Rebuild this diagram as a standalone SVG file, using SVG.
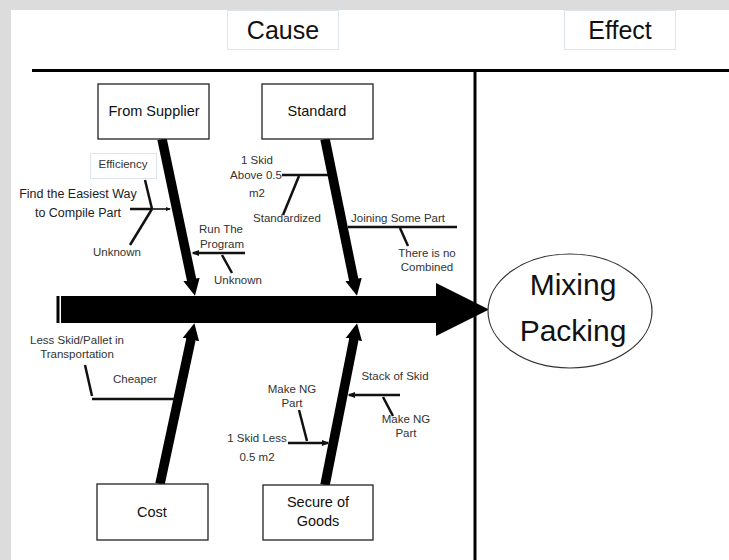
<svg xmlns="http://www.w3.org/2000/svg" width="729" height="560" viewBox="0 0 729 560">
<style>
  text { font-family: "Liberation Sans", Arial, sans-serif; text-anchor: middle; }
  .lbl { font-size: 11.5px; fill: #333; }
  .big { font-size: 12.5px; fill: #222; }
  .box { fill: #fff; stroke: #222; stroke-width: 1.3; }
  .ttl { font-size: 14.5px; fill: #111; }
  .hdr { fill: #fff; stroke: #dbe5ee; stroke-width: 1; }
  .hdrt { font-size: 25px; fill: #111; }
  .bone { stroke: #000; stroke-width: 9.5; fill: none; }
  .sub { stroke: #111; stroke-width: 2.5; fill: none; }
  .thin { stroke: #111; stroke-width: 1.6; fill: none; }
</style>
<defs>
  <marker id="bigArrow" viewBox="0 0 10 10" refX="0.5" refY="5" markerWidth="1.75" markerHeight="1.9" orient="auto" markerUnits="strokeWidth">
    <path d="M0,0 L10,5 L0,10 z" fill="#000"/>
  </marker>
  <marker id="smallArrow" viewBox="0 0 10 10" refX="8" refY="5" markerWidth="3.2" markerHeight="3.2" orient="auto" markerUnits="strokeWidth">
    <path d="M0,1 L10,5 L0,9 z" fill="#111"/>
  </marker>
</defs>

<rect x="0" y="0" width="729" height="560" fill="#dcdcdc"/>
<rect x="11" y="10" width="718" height="550" fill="#fff"/>

<g id="frame">
  <line x1="32" y1="70.5" x2="729" y2="70.5" stroke="#000" stroke-width="3"/>
  <line x1="475" y1="70" x2="475" y2="560" stroke="#000" stroke-width="3"/>
</g>

<g id="cause-header">
  <rect class="hdr" x="227.5" y="10.5" width="111" height="39"/>
  <text class="hdrt" x="283" y="39">Cause</text>
</g>
<g id="effect-header">
  <rect class="hdr" x="564.5" y="10.5" width="111" height="39"/>
  <text class="hdrt" x="620" y="39">Effect</text>
</g>

<g id="connectors">
  <!-- spine -->
  <rect x="56.5" y="296" width="3" height="27" fill="#000"/>
  <rect x="61" y="296" width="376" height="27" fill="#000"/>
  <polygon points="436,283 489,309.5 436,336" fill="#000"/>

  <!-- main bones -->
  <line class="bone" x1="162" y1="139" x2="191.7" y2="280.3" marker-end="url(#bigArrow)"/>
  <line class="bone" x1="325" y1="139" x2="353.8" y2="280.3" marker-end="url(#bigArrow)"/>
  <line class="bone" x1="160" y1="484" x2="191.1" y2="338.7" marker-end="url(#bigArrow)"/>
  <line class="bone" x1="325" y1="485" x2="354" y2="338.7" marker-end="url(#bigArrow)"/>

  <!-- From Supplier subs -->
  <line class="sub" x1="130" y1="209" x2="152" y2="209"/>
  <line class="thin" x1="152" y1="209" x2="170" y2="209" marker-end="url(#smallArrow)"/>
  <line class="sub" x1="145" y1="180" x2="152" y2="209"/>
  <line class="sub" x1="130" y1="245" x2="152" y2="209"/>
  <line class="sub" x1="245" y1="253" x2="193" y2="253" marker-end="url(#smallArrow)" stroke-width="2"/>
  <line class="sub" x1="222" y1="255" x2="232" y2="273" stroke-width="2.2"/>

  <!-- Standard subs -->
  <line class="sub" x1="282" y1="175" x2="328" y2="175" stroke-width="3"/>
  <line class="sub" x1="299" y1="176" x2="283" y2="215"/>
  <line class="sub" x1="348" y1="227" x2="457" y2="227" stroke-width="3"/>
  <line class="sub" x1="400" y1="228" x2="408" y2="246" stroke-width="2.2"/>

  <!-- Cost subs -->
  <line class="sub" x1="92" y1="399" x2="174" y2="399"/>
  <line class="sub" x1="85" y1="365" x2="92" y2="396"/>

  <!-- Secure subs -->
  <line class="sub" x1="400" y1="395" x2="349" y2="395" stroke-width="2" marker-end="url(#smallArrow)"/>
  <line class="sub" x1="383" y1="397" x2="393" y2="416" stroke-width="2"/>
  <line class="sub" x1="288" y1="443" x2="328" y2="443" stroke-width="2" marker-end="url(#smallArrow)"/>
  <line class="sub" x1="299" y1="410" x2="307" y2="441" stroke-width="2"/>
</g>

<g id="from-supplier">
  <rect class="box" x="98" y="84" width="111" height="55"/>
  <text class="ttl" x="154" y="116">From Supplier</text>
</g>
<g id="standard">
  <rect class="box" x="262" y="84" width="111" height="55"/>
  <text class="ttl" x="317" y="116">Standard</text>
</g>
<g id="cost">
  <rect class="box" x="97" y="484" width="111" height="56"/>
  <text class="ttl" x="152" y="517">Cost</text>
</g>
<g id="secure-of-goods">
  <rect class="box" x="263" y="485" width="110" height="55"/>
  <text class="ttl" x="318" y="507">Secure of</text>
  <text class="ttl" x="318" y="526">Goods</text>
</g>

<g id="mixing-packing">
  <ellipse cx="570" cy="311" rx="82" ry="57" fill="#fff" stroke="#333" stroke-width="1.2"/>
  <text x="573" y="295" font-size="30" fill="#111">Mixing</text>
  <text x="573" y="341" font-size="30" fill="#111">Packing</text>
</g>

<g id="labels-supplier">
  <rect class="hdr" x="90.5" y="153.5" width="66" height="25"/>
  <text class="lbl" x="123" y="168">Efficiency</text>
  <text class="big" x="78" y="198">Find the Easiest Way</text>
  <text class="big" x="78" y="217">to Compile Part</text>
  <text class="lbl" x="117" y="256">Unknown</text>
  <text class="lbl" x="221" y="233">Run The</text>
  <text class="lbl" x="222" y="248">Program</text>
  <text class="lbl" x="238" y="284">Unknown</text>
</g>
<g id="labels-standard">
  <text class="lbl" x="257" y="164">1 Skid</text>
  <text class="lbl" x="256" y="179">Above 0.5</text>
  <text class="lbl" x="257" y="197">m2</text>
  <text class="lbl" x="287" y="222">Standardized</text>
  <text class="lbl" x="398" y="222">Joining Some Part</text>
  <text class="lbl" x="427" y="257">There is no</text>
  <text class="lbl" x="427" y="271">Combined</text>
</g>
<g id="labels-cost">
  <text class="lbl" x="77" y="344">Less Skid/Pallet in</text>
  <text class="lbl" x="77" y="358">Transportation</text>
  <text class="lbl" x="135" y="383">Cheaper</text>
</g>
<g id="labels-secure">
  <text class="lbl" x="292" y="393">Make NG</text>
  <text class="lbl" x="292" y="407">Part</text>
  <text class="lbl" x="257" y="442">1 Skid Less</text>
  <text class="lbl" x="257" y="461">0.5 m2</text>
  <text class="lbl" x="395" y="380">Stack of Skid</text>
  <text class="lbl" x="406" y="423">Make NG</text>
  <text class="lbl" x="406" y="437">Part</text>
</g>
</svg>
